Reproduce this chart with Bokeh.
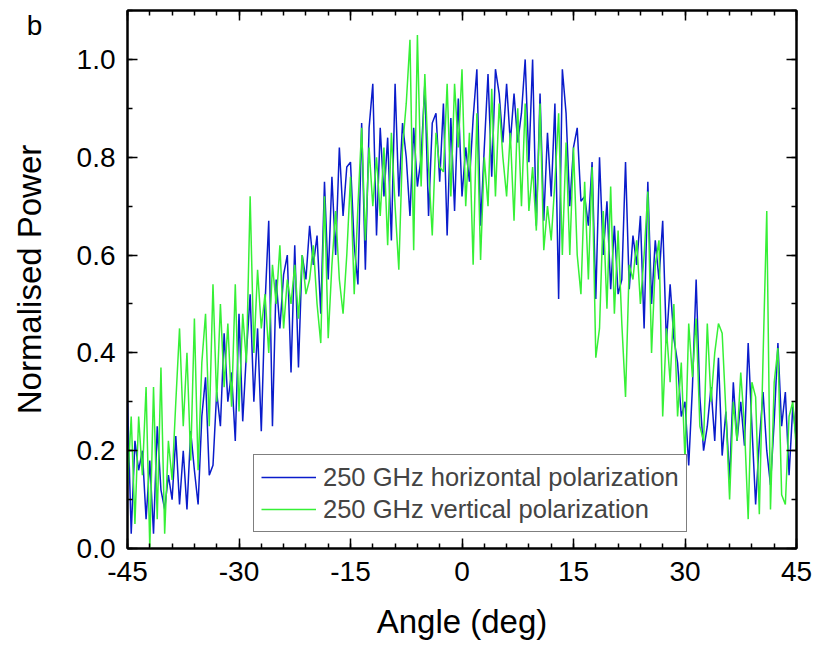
from bokeh.plotting import figure
from bokeh.models import (LinearAxis, SingleIntervalTicker, PrintfTickFormatter,
                          CustomJSTickFormatter, Legend, LegendItem, Label, ColumnDataSource)
from bokeh.embed import file_html
from bokeh.resources import INLINE

# Angle grid (deg), 0.5 deg steps from -45 to 45
angle = [-45 + 0.5 * i for i in range(181)]

# 250 GHz horizontal polarization
horizontal = [
    0.30, 0.03, 0.22, 0.16, 0.20, 0.06, 0.18, 0.03, 0.25, 0.12,
    0.08, 0.15, 0.10, 0.23, 0.09, 0.20, 0.08, 0.24, 0.16, 0.09,
    0.27, 0.35, 0.15, 0.17, 0.32, 0.25, 0.44, 0.30, 0.36, 0.22,
    0.48, 0.26, 0.40, 0.52, 0.30, 0.45, 0.24, 0.50, 0.67, 0.25,
    0.55, 0.45, 0.56, 0.60, 0.36, 0.62, 0.37, 0.60, 0.55, 0.66,
    0.58, 0.64, 0.48, 0.75, 0.55, 0.76, 0.60, 0.82, 0.68, 0.78,
    0.79, 0.62, 0.54, 0.87, 0.57, 0.86, 0.95, 0.64, 0.86, 0.72,
    0.84, 0.63, 0.95, 0.72, 0.87, 0.80, 0.68, 0.86, 0.74, 0.80,
    0.95, 0.68, 0.87, 0.89, 0.75, 0.91, 0.64, 0.88, 0.69, 0.92,
    0.72, 0.82, 0.75, 0.88, 0.98, 0.66, 0.82, 0.97, 0.76, 0.98,
    0.93, 0.83, 0.95, 0.83, 0.93, 0.83, 0.89, 1.00, 0.79, 1.00,
    0.66, 0.93, 0.67, 0.85, 0.72, 0.91, 0.51, 0.98, 0.89, 0.70,
    0.82, 0.86, 0.71, 0.72, 0.66, 0.79, 0.51, 0.80, 0.60, 0.71,
    0.53, 0.66, 0.52, 0.55, 0.79, 0.53, 0.64, 0.58, 0.68, 0.45,
    0.75, 0.50, 0.63, 0.55, 0.67, 0.42, 0.54, 0.43, 0.38, 0.27,
    0.30, 0.17, 0.33, 0.55, 0.31, 0.20, 0.25, 0.33, 0.22, 0.39,
    0.19, 0.28, 0.14, 0.34, 0.22, 0.30, 0.21, 0.42, 0.25, 0.09,
    0.22, 0.32, 0.20, 0.13, 0.26, 0.42, 0.25, 0.32, 0.15, 0.29,
    0.22,
]

# 250 GHz vertical polarization
vertical = [
    0.13, 0.27, 0.05, 0.27, 0.15, 0.33, 0.00, 0.33, 0.06, 0.37,
    0.03, 0.22, 0.14, 0.30, 0.45, 0.25, 0.40, 0.18, 0.47, 0.16,
    0.38, 0.48, 0.25, 0.54, 0.30, 0.50, 0.33, 0.46, 0.29, 0.54,
    0.28, 0.48, 0.38, 0.72, 0.40, 0.57, 0.45, 0.52, 0.40, 0.58,
    0.50, 0.62, 0.45, 0.55, 0.50, 0.58, 0.47, 0.60, 0.52, 0.55,
    0.62, 0.50, 0.42, 0.72, 0.43, 0.58, 0.69, 0.55, 0.48, 0.60,
    0.76, 0.52, 0.70, 0.86, 0.63, 0.82, 0.70, 0.80, 0.68, 0.82,
    0.62, 0.85, 0.70, 0.57, 0.82, 0.91, 1.04, 0.61, 1.05, 0.74,
    0.97, 0.78, 0.64, 0.85, 0.78, 0.77, 0.95, 0.72, 0.95, 0.82,
    0.98, 0.70, 0.85, 0.58, 0.89, 0.59, 0.80, 0.70, 0.94, 0.72,
    0.91, 0.80, 0.72, 0.85, 0.67, 0.90, 0.70, 0.91, 0.69, 0.78,
    0.65, 0.91, 0.61, 0.70, 0.63, 0.75, 0.89, 0.60, 0.83, 0.60,
    0.82, 0.60, 0.52, 0.75, 0.55, 0.78, 0.39, 0.45, 0.69, 0.49,
    0.74, 0.48, 0.65, 0.46, 0.31, 0.58, 0.55, 0.63, 0.50, 0.60,
    0.73, 0.40, 0.58, 0.63, 0.27, 0.45, 0.34, 0.50, 0.27, 0.38,
    0.18, 0.46, 0.35, 0.47, 0.25, 0.22, 0.46, 0.30, 0.40, 0.46,
    0.44, 0.28, 0.10, 0.30, 0.22, 0.36, 0.25, 0.06, 0.34, 0.31,
    0.07, 0.39, 0.69, 0.08, 0.34, 0.41, 0.11, 0.09, 0.27, 0.30,
    0.20,
]

series_labels = ["250 GHz horizontal polarization", "250 GHz vertical polarization"]
panel_letter = "b"
letter_pos = (-57.5, 1.069)   # where the panel letter sits, in data units
x_ticks_interval = 15
y_ticks_interval = 0.2

FONT = "Liberation Sans"

p = figure(frame_width=669, frame_height=538, x_range=(-45, 45), y_range=(0, 1.1),
           output_backend="svg", toolbar_location=None,
           min_border_left=127, min_border_right=29, min_border_top=10, min_border_bottom=97)
p.xgrid.visible = False
p.ygrid.visible = False
p.outline_line_color = "black"
p.outline_line_width = 2
p.background_fill_color = "white"
p.border_fill_color = "white"

src = ColumnDataSource(dict(angle=angle, h=horizontal, v=vertical))
r1 = p.line("angle", "h", source=src, line_color="#0a1ccb", line_width=1.5)
r2 = p.line("angle", "v", source=src, line_color="#36f036", line_width=1.5)

xt = SingleIntervalTicker(interval=x_ticks_interval, num_minor_ticks=5)
yt = SingleIntervalTicker(interval=y_ticks_interval, num_minor_ticks=2)

for ax in p.xaxis:
    ax.ticker = xt
    ax.formatter = PrintfTickFormatter(format="%d")
    ax.axis_label = "Angle (deg)"
    ax.major_label_standoff = 13
    ax.axis_label_standoff = 19
for ax in p.yaxis:
    ax.ticker = yt
    ax.formatter = PrintfTickFormatter(format="%.1f")
    ax.axis_label = "Normalised Power"
    ax.major_label_standoff = 12
    ax.axis_label_standoff = 26

for ax in list(p.xaxis) + list(p.yaxis):
    ax.axis_line_width = 2
    ax.major_tick_in = 10
    ax.major_tick_out = 0
    ax.minor_tick_in = 5
    ax.minor_tick_out = 0
    ax.major_tick_line_width = 1.5
    ax.minor_tick_line_width = 1.5
    ax.major_label_text_font = FONT
    ax.major_label_text_font_size = "28px"
    ax.major_label_text_color = "black"
    ax.axis_label_text_font = FONT
    ax.axis_label_text_font_size = "33px"
    ax.axis_label_text_font_style = "normal"
    ax.axis_label_text_color = "black"

empty = CustomJSTickFormatter(code="return ''")
top = LinearAxis(ticker=SingleIntervalTicker(interval=x_ticks_interval, num_minor_ticks=5),
                 formatter=empty, major_tick_in=10, major_tick_out=0, minor_tick_in=5,
                 minor_tick_out=0, axis_line_width=2, major_tick_line_width=1.5,
                 minor_tick_line_width=1.5, major_label_standoff=0)
right = LinearAxis(ticker=SingleIntervalTicker(interval=y_ticks_interval, num_minor_ticks=2),
                   formatter=empty, major_tick_in=10, major_tick_out=0, minor_tick_in=5,
                   minor_tick_out=0, axis_line_width=2, major_tick_line_width=1.5,
                   minor_tick_line_width=1.5, major_label_standoff=0)
p.add_layout(top, "above")
p.add_layout(right, "right")

legend = Legend(items=[LegendItem(label=series_labels[0], renderers=[r1]),
                       LegendItem(label=series_labels[1], renderers=[r2])],
                location=(126, 16))
legend.border_line_color = "black"
legend.border_line_width = 1
legend.background_fill_alpha = 1
legend.label_text_font = FONT
legend.label_text_font_size = "25.5px"
legend.glyph_width = 55
legend.glyph_height = 30
legend.label_height = 30
legend.label_standoff = 7
legend.padding = 7
legend.spacing = 2
legend.margin = 0
p.add_layout(legend, "center")

# panel letter: placed in a side panel (right, which has spare room) so it is
# not clipped to the frame; its position comes from the data scales
p.add_layout(Label(x=letter_pos[0], y=letter_pos[1], text=panel_letter,
                   text_font=FONT, text_font_size="28px", text_align="center",
                   text_baseline="middle", text_color="black"), "right")

open("out.html", "w").write(file_html(p, INLINE))
